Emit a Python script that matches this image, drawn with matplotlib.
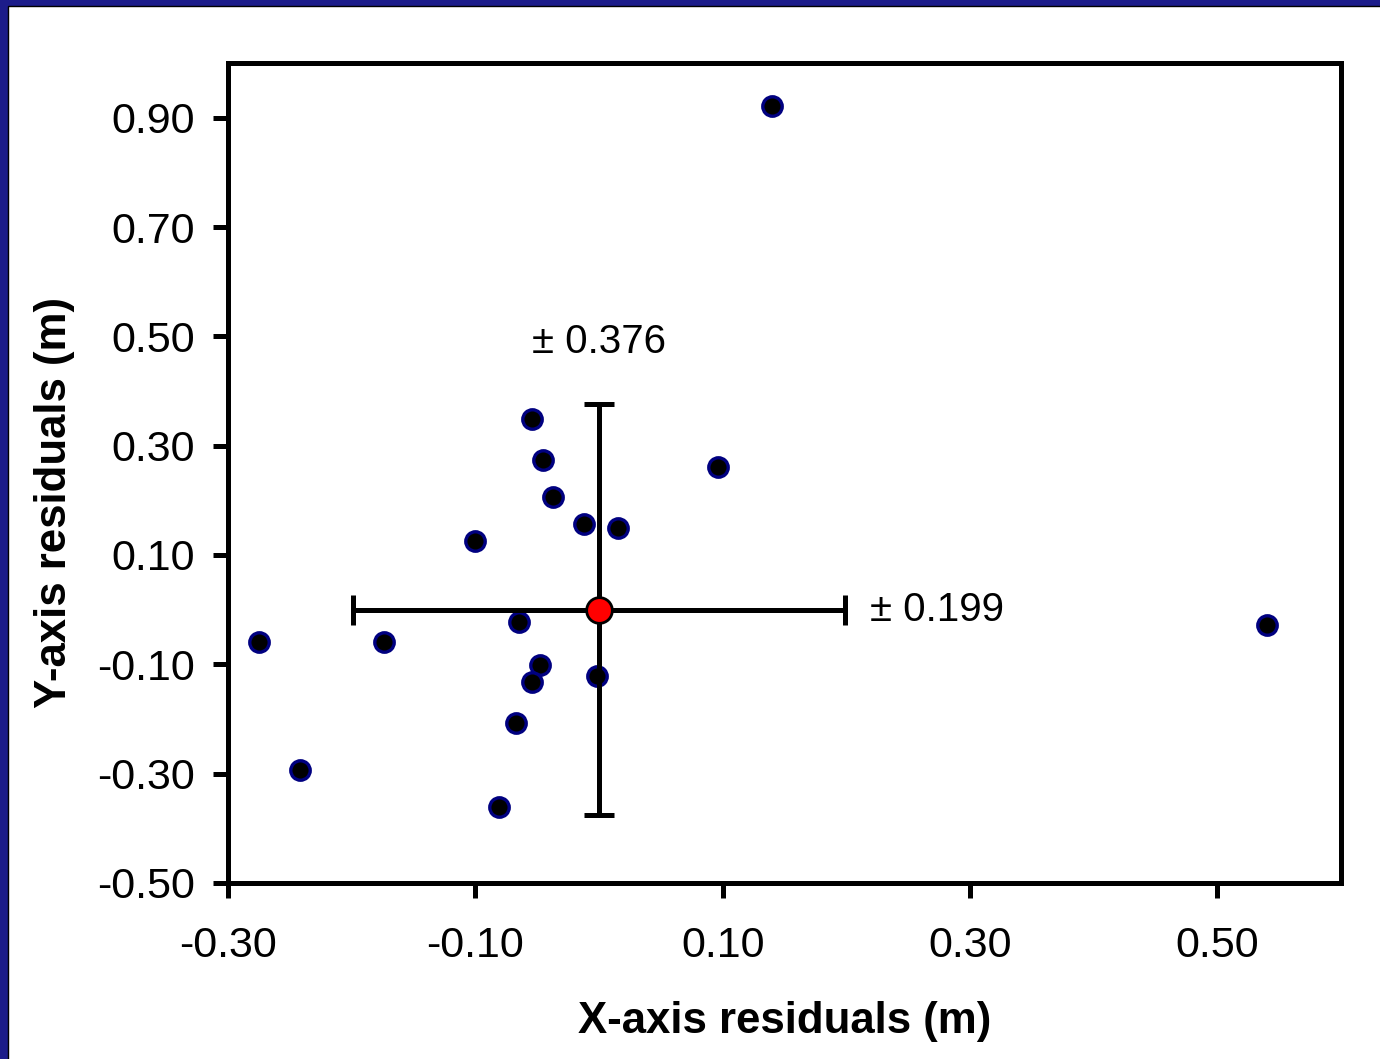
import matplotlib
matplotlib.use("Agg")
import matplotlib.pyplot as plt
from matplotlib.patches import Rectangle

plt.rcParams["font.family"] = ["Liberation Sans", "DejaVu Sans"]

# residuals (m)
x_res = [0.140, -0.054, -0.045, -0.037, -0.012, 0.015, -0.100, 0.096, -0.065,
         -0.275, -0.174, 0.540, -0.048, -0.054, -0.002, -0.067, -0.242, -0.081]
y_res = [0.922, 0.349, 0.274, 0.206, 0.157, 0.150, 0.126, 0.261, -0.022,
         -0.059, -0.059, -0.028, -0.101, -0.132, -0.121, -0.207, -0.293, -0.361]
mean_xy = (0.0, 0.0)
sd_x = 0.199
sd_y = 0.376
xticks = [-0.30, -0.10, 0.10, 0.30, 0.50]
yticks = [-0.50, -0.30, -0.10, 0.10, 0.30, 0.50, 0.70, 0.90]

fig = plt.figure(figsize=(13.8, 10.59), dpi=100, facecolor="#1c1c8a")
# white slide area, blue frame showing on left/top edges
fig.patches.append(Rectangle((8 / 1380, -0.01), 1, 1.01 - 6 / 1059, transform=fig.transFigure,
                             facecolor="white", edgecolor="black", lw=1.0, zorder=-1))

ax = fig.add_axes([228 / 1380, 1 - 883 / 1059, (1341 - 228) / 1380, (883 - 63) / 1059])
ax.set_facecolor("white")

ax.plot(x_res, y_res, "o", ms=14, mfc="black", mec="#000080", mew=2.4, zorder=3)
# mean with standard deviation bars
ax.errorbar([mean_xy[0]], [mean_xy[1]], xerr=[sd_x], yerr=[sd_y], fmt="none",
            ecolor="black", elinewidth=3.6, capsize=10.5, capthick=3.6, zorder=4)
ax.plot([mean_xy[0]], [mean_xy[1]], "o", ms=18.5, mfc="red", mec="black", mew=2.0, zorder=5)

ax.text(0.0, 0.49, "\u00b1 0.376", ha="center", va="center", fontsize=29)
ax.text(0.219, 0.0, "\u00b1 0.199", ha="left", va="center", fontsize=29)

ax.set_xlim(-0.30, 0.60)
ax.set_ylim(-0.50, 1.00)
ax.set_xticks(xticks)
ax.set_yticks(yticks)
ax.set_xticklabels([f"{v:.2f}" for v in xticks])
ax.set_yticklabels([f"{v:.2f}" for v in yticks])
ax.tick_params(axis="both", direction="out", length=11, width=3.6, labelsize=31)
ax.tick_params(axis="y", pad=13)
ax.tick_params(axis="x", pad=20)
for sp in ax.spines.values():
    sp.set_linewidth(3.6)

fig.text(55 / 1380, 1 - 502 / 1059, "Y-axis residuals (m)", rotation=90,
         ha="center", va="center", fontsize=31.5, fontweight="bold")
fig.text(785 / 1380, 1 - 1022 / 1059, "X-axis residuals (m)",
         ha="center", va="center", fontsize=31.5, fontweight="bold")

fig.savefig("out.png", dpi=100, facecolor=fig.get_facecolor())
